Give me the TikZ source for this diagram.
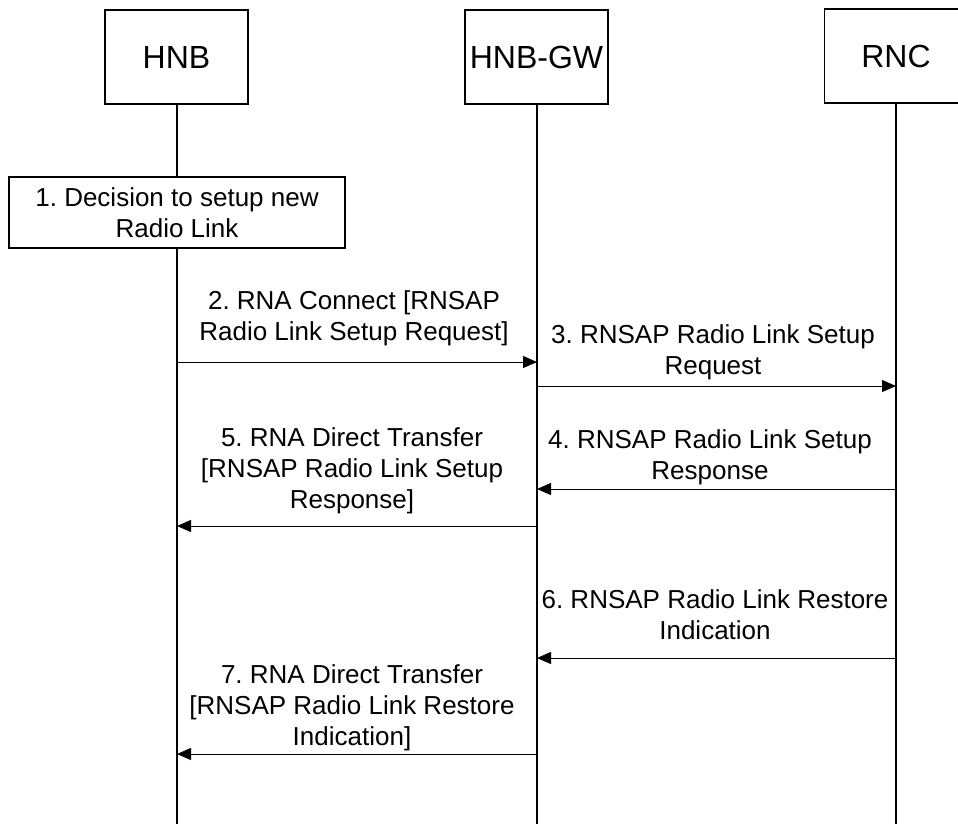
\documentclass[tikz,border=0pt]{standalone}
\usepackage{fontspec}
\setmainfont{Liberation Sans}
\usetikzlibrary{arrows.meta}
\begin{document}
\frenchspacing
\begin{tikzpicture}[x=1pt,y=-1pt,
  entity/.style={draw, line width=1.8pt, minimum width=143pt, minimum height=94pt,
    font=\fontsize{32}{38}\selectfont, inner sep=0pt},
  life/.style={line width=1.6pt},
  msg/.style={line width=1pt, -{Triangle[length=14pt,width=12pt]}},
  lbl/.style={font=\fontsize{26}{31}\selectfont, align=center, inner sep=0pt},
  actbox/.style={draw, line width=1.8pt, fill=white, minimum width=336pt, minimum height=71pt}
]
\useasboundingbox (0,0) rectangle (958,823);
% entities
\node[entity] (hnb) at (176.5,57) {HNB};
\node[entity] (gw) at (536.5,57) {HNB-GW};
\node[entity] (rnc) at (896,56) {RNC};
% lifelines
\coordinate (hnbend) at (177,830);
\coordinate (gwend) at (537,830);
\coordinate (rncend) at (896,830);
\draw[life] (hnb.south -| hnbend) -- (hnbend);
\draw[life] (gw.south -| gwend) -- (gwend);
\draw[life] (rnc.south -| rncend) -- (rncend);
% step 1
\node[actbox, lbl] (dec) at (177,212.5) {1. Decision to setup new\\Radio Link};
% message end points
\coordinate (a2) at (177,362);  \coordinate (b2) at (537,362);
\coordinate (a3) at (537,386);  \coordinate (b3) at (896,386);
\coordinate (a4) at (896,489);  \coordinate (b4) at (537,489);
\coordinate (a5) at (537,526);  \coordinate (b5) at (177,526);
\coordinate (a6) at (896,658);  \coordinate (b6) at (537,658);
\coordinate (a7) at (537,754);  \coordinate (b7) at (177,754);
\draw[msg] (a2) -- (b2);
\draw[msg] (a3) -- (b3);
\draw[msg] (a4) -- (b4);
\draw[msg] (a5) -- (b5);
\draw[msg] (a6) -- (b6);
\draw[msg] (a7) -- (b7);
% labels
\node[lbl] (l2) at (354,318) {2. RNA Connect [RNSAP\\Radio Link Setup Request]};
\node[lbl] (l3) at (713,352) {3. RNSAP Radio Link Setup\\Request};
\node[lbl] (l4) at (710,457) {4. RNSAP Radio Link Setup\\Response};
\node[lbl] (l5) at (352,471) {5. RNA Direct Transfer\\{[}RNSAP Radio Link Setup\\Response]};
\node[lbl] (l6) at (715,615) {6. RNSAP Radio Link Restore\\Indication};
\node[lbl] (l7) at (352,708) {7. RNA Direct Transfer\\{[}RNSAP Radio Link Restore\\Indication]};
\end{tikzpicture}
\end{document}
